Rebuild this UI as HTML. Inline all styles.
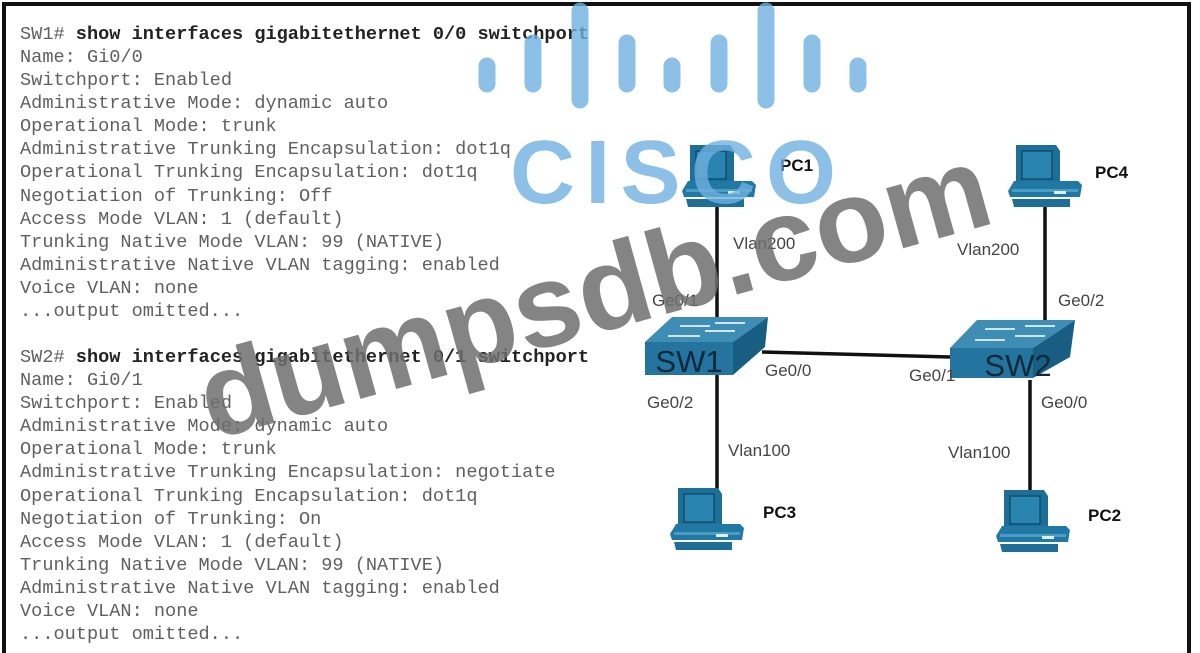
<!DOCTYPE html>
<html><head><meta charset="utf-8"><style>
html,body{margin:0;padding:0;background:#fff;width:1200px;height:653px;overflow:hidden;}
body{position:relative;}
.frame{position:absolute;left:2px;top:2px;width:1189px;height:651px;border:4px solid #111;border-bottom:none;box-sizing:border-box;}
pre{position:absolute;left:20px;top:23px;margin:0;font-family:"Liberation Mono",monospace;font-size:18.6px;line-height:23.08px;color:#606060;}
pre b{color:#222;}
svg{position:absolute;left:0;top:0;}
</style></head><body>
<div class="frame"></div>
<pre>SW1# <b>show interfaces gigabitethernet 0/0 switchport</b>
Name: Gi0/0
Switchport: Enabled
Administrative Mode: dynamic auto
Operational Mode: trunk
Administrative Trunking Encapsulation: dot1q
Operational Trunking Encapsulation: dot1q
Negotiation of Trunking: Off
Access Mode VLAN: 1 (default)
Trunking Native Mode VLAN: 99 (NATIVE)
Administrative Native VLAN tagging: enabled
Voice VLAN: none
...output omitted...

SW2# <b>show interfaces gigabitethernet 0/1 switchport</b>
Name: Gi0/1
Switchport: Enabled
Administrative Mode: dynamic auto
Operational Mode: trunk
Administrative Trunking Encapsulation: negotiate
Operational Trunking Encapsulation: dot1q
Negotiation of Trunking: On
Access Mode VLAN: 1 (default)
Trunking Native Mode VLAN: 99 (NATIVE)
Administrative Native VLAN tagging: enabled
Voice VLAN: none
...output omitted...</pre>
<svg width="1200" height="653" viewBox="0 0 1200 653">
<defs>
<g id="pc">
 <path d="M8,0 L48,0 L52,6 L52,42 L12,42 L8,36 Z" fill="#1d6f98"/>
 <rect x="14" y="6" width="30" height="28" fill="#2a84b0" stroke="#0f4e6f" stroke-width="1.5"/>
 <path d="M6,36 L70,36 L74,40 L72,52 L2,52 L0,46 Z" fill="#2178a3"/>
 <rect x="4" y="44" width="66" height="3" fill="#4a9cc4"/>
 <rect x="46" y="46" width="12" height="3" fill="#dfeff7"/>
 <path d="M4,54 L62,54 L62,62 L6,62 Z" fill="#1d6f98"/>
</g>
</defs>
<g stroke="#111" stroke-width="3.5" fill="none">
 <line x1="717" y1="205" x2="717" y2="342"/>
 <line x1="717" y1="375" x2="717" y2="490"/>
 <line x1="762" y1="352" x2="950" y2="357"/>
 <line x1="1045" y1="205" x2="1045" y2="322"/>
 <line x1="1030" y1="380" x2="1030" y2="492"/>
</g>
<use href="#pc" x="682" y="145"/>
<use href="#pc" x="1008" y="145"/>
<use href="#pc" x="670" y="488"/>
<use href="#pc" x="996" y="490"/>
<path d="M645,342 L672,317 L768,317 L733,342 Z" fill="#3d8db5"/>
<path d="M733,342 L768,317 L765,347 L733,375 Z" fill="#185e83"/>
<rect x="645" y="342" width="88" height="33" fill="#2574a0"/>
<g stroke="#cfe6f2" stroke-width="2"><line x1="680" y1="326" x2="710" y2="326"/><line x1="715" y1="323" x2="745" y2="323"/><line x1="668" y1="336" x2="700" y2="336"/><line x1="705" y1="331" x2="735" y2="331"/></g>
<text x="689" y="372" font-family="Liberation Sans,sans-serif" font-size="31" fill="#0c2a3b" text-anchor="middle">SW1</text>
<path d="M950,348 L977,320 L1075,320 L1033,348 Z" fill="#3d8db5"/>
<path d="M1033,348 L1075,320 L1070,357 L1033,378 Z" fill="#185e83"/>
<rect x="950" y="348" width="83" height="30" fill="#2574a0"/>
<g stroke="#cfe6f2" stroke-width="2"><line x1="985" y1="329" x2="1015" y2="329"/><line x1="1025" y1="326" x2="1055" y2="326"/><line x1="975" y1="340" x2="1005" y2="340"/><line x1="1015" y1="336" x2="1045" y2="336"/></g>
<text x="1018" y="376" font-family="Liberation Sans,sans-serif" font-size="31" fill="#0c2a3b" text-anchor="middle">SW2</text>
<g font-family="Liberation Sans,sans-serif" font-size="17" fill="#444">
 <text x="733" y="249">Vlan200</text>
 <text x="957" y="255">Vlan200</text>
 <text x="652" y="306">Ge0/1</text>
 <text x="1058" y="306">Ge0/2</text>
 <text x="765" y="376">Ge0/0</text>
 <text x="909" y="381">Ge0/1</text>
 <text x="647" y="408">Ge0/2</text>
 <text x="1041" y="408">Ge0/0</text>
 <text x="728" y="456">Vlan100</text>
 <text x="948" y="458">Vlan100</text>
</g>
<g font-family="Liberation Sans,sans-serif" font-size="17" font-weight="bold" fill="#111">
 <text x="780" y="171">PC1</text>
 <text x="1095" y="178">PC4</text>
 <text x="763" y="518">PC3</text>
 <text x="1088" y="521">PC2</text>
</g>
<g stroke="#6fb0e0" stroke-opacity="0.8" stroke-width="17" stroke-linecap="round">
 <line x1="487" y1="66" x2="487" y2="84"/>
 <line x1="533" y1="43" x2="533" y2="84"/>
 <line x1="580" y1="11" x2="580" y2="100"/>
 <line x1="627" y1="43" x2="627" y2="84"/>
 <line x1="672" y1="66" x2="672" y2="84"/>
 <line x1="719" y1="43" x2="719" y2="84"/>
 <line x1="766" y1="11" x2="766" y2="100"/>
 <line x1="812" y1="43" x2="812" y2="84"/>
 <line x1="858" y1="66" x2="858" y2="84"/>
</g>
<text x="510" y="203" font-family="Liberation Sans,sans-serif" font-weight="bold" font-size="90" fill="#6fb0e0" fill-opacity="0.8" textLength="326" lengthAdjust="spacing">CISCO</text>
<text x="0" y="0" transform="translate(212,440) rotate(-15.5)" font-family="Liberation Sans,sans-serif" font-weight="bold" font-size="118" fill="#6e6e6e" fill-opacity="0.85" textLength="815" lengthAdjust="spacingAndGlyphs">dumpsdb.com</text>
</svg>
</body></html>
